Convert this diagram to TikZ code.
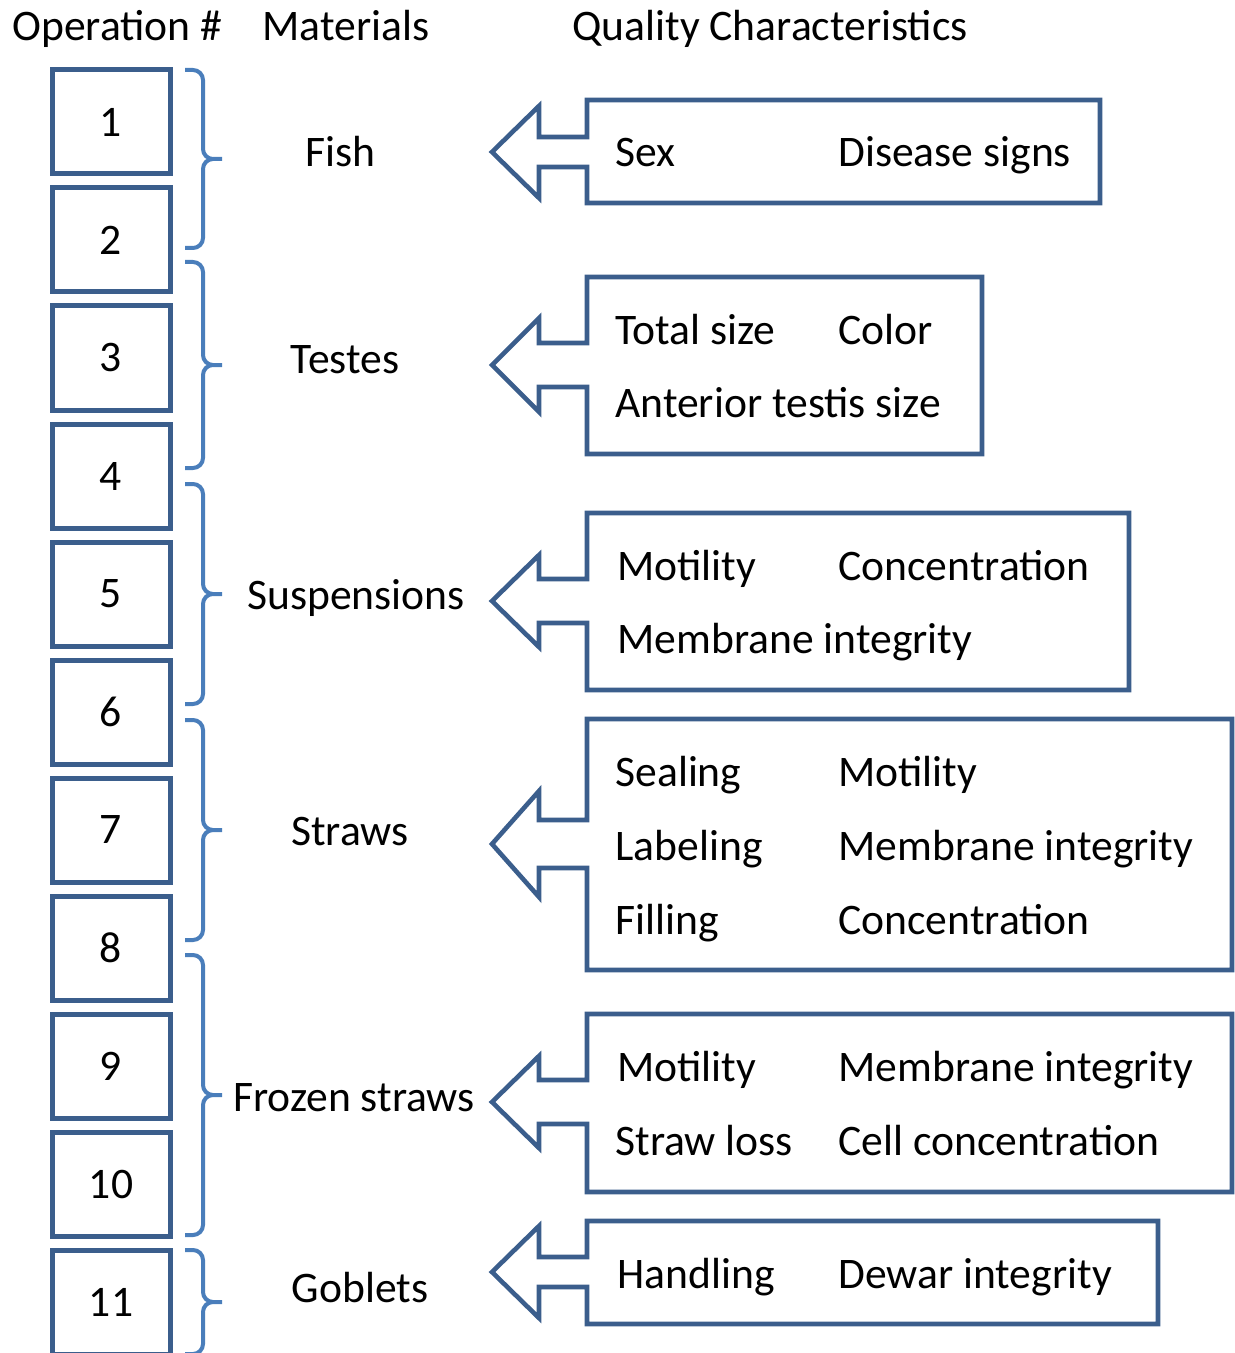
\documentclass[tikz,border=0pt]{standalone}
\usepackage{fontspec}
\setmainfont{Carlito}
\definecolor{opblue}{HTML}{3B5E8C}
\definecolor{braceblue}{HTML}{4A7EBB}

\begin{document}
\begin{tikzpicture}[x=0.5pt, y=-0.5pt,
    every node/.style={font=\fontsize{21.8pt}{26pt}\selectfont, inner sep=0pt},
    opbox/.style={draw=opblue, line width=2.5pt, minimum width=59pt, minimum height=52pt},
    grpbrace/.style={draw=braceblue, line width=2pt, rounded corners=5pt},
    callout/.style={draw=opblue, line width=2.3pt, line join=miter},
    item/.style={anchor=base west},
    mat/.style={anchor=base}]
    \useasboundingbox (0,0) rectangle (1235,1353);

    % column heads
    \node[item] (hdop) at (12,41) {Operation \#};
    \node[item] (hdmat) at (262,41) {Materials};
    \node[item] (hdqual) at (572,41) {Quality Characteristics};

    % operations
    \foreach \i in {1,...,11}
        \node[opbox] (op\i) at (111,{122+118*(\i-1)}) {\i};

    % braces
    \foreach \t/\m/\b in {70/159/248, 262/365/468, 484/594/704, 720/830/940,
        955/1095/1235, 1250/1302/1354}
        \draw[grpbrace] (185,\t) -- (203,\t) -- (203,\m) -- (222,\m)
            (185,\b) -- (203,\b) -- (203,\m) -- (222,\m);

    % materials
    \node[mat] (fish) at (340,167) {Fish};
    \node[mat] (testes) at (345,373) {Testes};
    \node[mat] (susp) at (356,609) {Suspensions};
    \node[mat] (straws) at (350,845) {Straws};
    \node[mat] (frozen) at (354,1111) {Frozen straws};
    \node[mat] (goblets) at (360,1302) {Goblets};

    % arrow boxes
    \foreach \t/\b/\r/\c/\s/\h in {100/203/1100/152/15/46, 277/454/982/365/22/47,
        513/690/1129/601/22/46, 719/970/1232/844/24/53,
        1014/1192/1232/1102/22/46, 1221/1324/1158/1272/15/46}
        \draw[callout] (587,\t) -- (\r,\t) -- (\r,\b) -- (587,\b) -- (587,\c+\s)
            -- (539,\c+\s) -- (539,\c+\h) -- (492,\c) -- (539,\c-\h)
            -- (539,\c-\s) -- (587,\c-\s) -- cycle;

    % quality characteristics
    \node[item] (sex) at (615,167) {Sex};
    \node[item] (disease) at (838,167) {Disease signs};

    \node[item] (tsize) at (615,344) {Total size};
    \node[item] (tcolor) at (838,344) {Color};
    \node[item] (asize) at (615,417) {Anterior testis size};

    \node[item] (smot) at (617,580) {Motility};
    \node[item] (sconc) at (838,580) {Concentration};
    \node[item] (smemb) at (617,653) {Membrane integrity};

    \node[item] (seal) at (615,786) {Sealing};
    \node[item] (wmot) at (838,786) {Motility};
    \node[item] (label) at (615,860) {Labeling};
    \node[item] (wmemb) at (838,860) {Membrane integrity};
    \node[item] (fill) at (615,934) {Filling};
    \node[item] (wconc) at (838,934) {Concentration};

    \node[item] (fmot) at (617,1081) {Motility};
    \node[item] (fmemb) at (838,1081) {Membrane integrity};
    \node[item] (loss) at (615,1155) {Straw loss};
    \node[item] (fconc) at (838,1155) {Cell concentration};

    \node[item] (handl) at (617,1288) {Handling};
    \node[item] (dewar) at (838,1288) {Dewar integrity};
\end{tikzpicture}
\end{document}
